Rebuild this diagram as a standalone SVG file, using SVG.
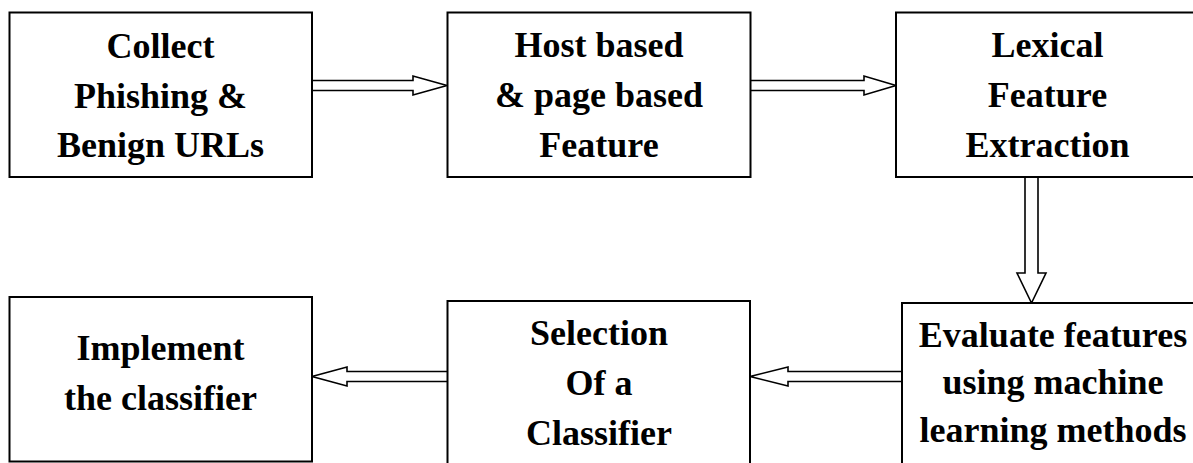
<svg xmlns="http://www.w3.org/2000/svg" width="1193" height="463" viewBox="0 0 1193 463">
<style>
.box{fill:#fff;stroke:#000;stroke-width:2}
.t{font-family:'Liberation Serif','Times New Roman','DejaVu Serif',serif;font-weight:700;font-size:36px;text-anchor:middle;fill:#000}
.arr{fill:#fff;stroke:#000;stroke-width:1.6;stroke-linejoin:miter}
</style>
<rect width="1193" height="463" fill="#fff"/>
<g id="connectors">
<path class="arr" d="M312,80.5 H413 V76 L447,85.5 L413,95 V90.5 H312"/>
<path class="arr" d="M751,80.5 H864 V76 L896,85.5 L864,95 V90.5 H751"/>
<path class="arr" d="M1025,177 V273 H1017 L1031.5,303 L1046,273 H1038 V177"/>
<path class="arr" d="M902,371.5 H788 V367 L750,376.5 L788,386 V381.5 H902"/>
<path class="arr" d="M450,371.5 H347 V367 L312,376.5 L347,386 V381.5 H450 Z"/>
</g>
<g id="n1"><rect class="box" x="9.5" y="12.5" width="302.5" height="164.5"/>
<text class="t" font-family="Liberation Serif" x="160.5" y="58">Collect</text><text class="t" font-family="Liberation Serif" x="160.5" y="107.5">Phishing &amp;</text><text class="t" font-family="Liberation Serif" x="160.5" y="157">Benign URLs</text></g>
<g id="n2"><rect class="box" x="447.5" y="12.5" width="303" height="164.5"/>
<text class="t" x="599" y="57">Host based</text><text class="t" x="599" y="106.5">&amp; page based</text><text class="t" x="599" y="156.5">Feature</text></g>
<g id="n3"><rect class="box" x="896" y="12.5" width="305" height="164.5"/>
<text class="t" x="1047.5" y="57">Lexical</text><text class="t" x="1047.5" y="107">Feature</text><text class="t" x="1047.5" y="157">Extraction</text></g>
<g id="n4"><rect class="box" x="902" y="303" width="305" height="170"/>
<text class="t" x="1053" y="346.5">Evaluate features</text><text class="t" x="1053" y="394">using machine</text><text class="t" x="1053" y="441.5">learning methods</text></g>
<g id="n5"><rect class="box" x="447.5" y="301" width="302.5" height="172"/>
<text class="t" x="599" y="345">Selection</text><text class="t" x="599" y="395">Of a</text><text class="t" x="599" y="445">Classifier</text></g>
<g id="n6"><rect class="box" x="9.5" y="297" width="302.5" height="164.5"/>
<text class="t" x="160.5" y="360">Implement</text><text class="t" x="160.5" y="410">the classifier</text></g>
</svg>
